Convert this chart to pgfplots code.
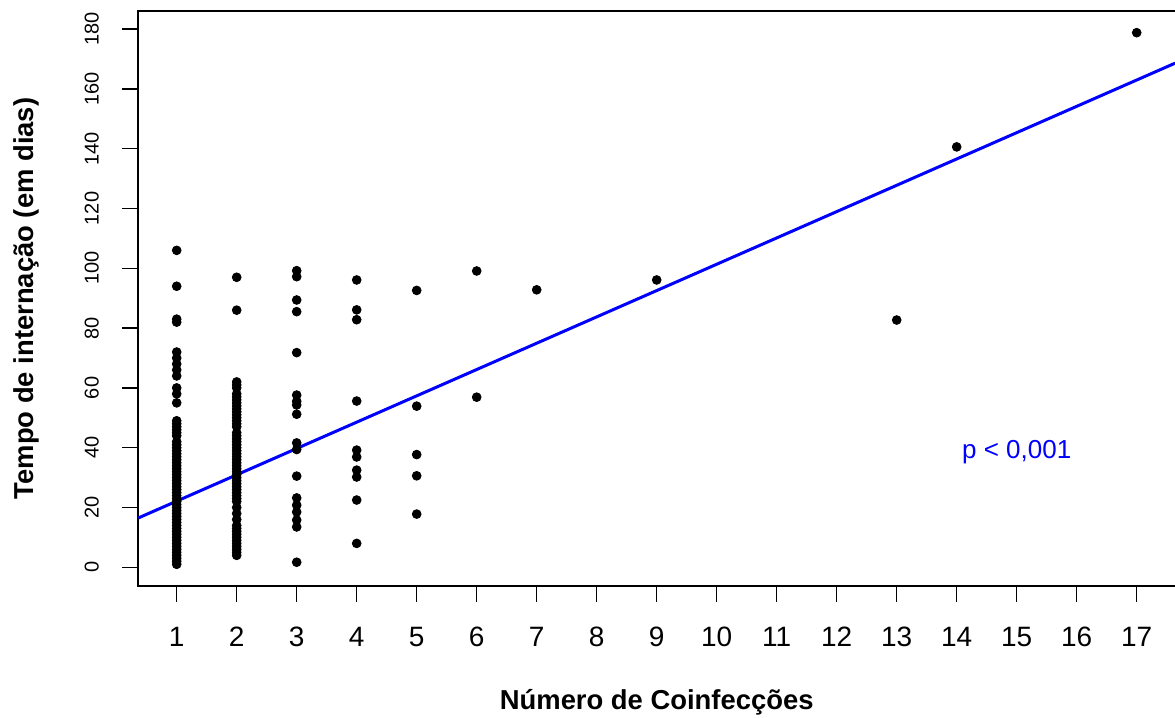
\documentclass[border=0pt]{standalone}
\usepackage{pgfplots}
\pgfplotsset{compat=1.18}
\usepackage{fontspec}
\setmainfont{Liberation Sans}
\begin{document}
\begin{tikzpicture}
\begin{axis}[
  name=ax,
  scale only axis,
  width=518.4pt, height=287.5pt,
  xmin=0.36, xmax=17.64,
  ymin=-6.25, ymax=186.05,
  clip=false,
  axis line style={draw=none},
  xtick={1,2,...,17},
  ytick={0,20,...,180},
  xtick pos=bottom, ytick pos=left,
  tick align=outside,
  major tick length=8pt,
  tick style={black, line width=0.7pt},
  /pgf/number format/assume math mode=true,
  xticklabel shift=12.3pt,
  yticklabel shift=11.5pt,
  xticklabel style={font=\fontsize{14}{16}\selectfont, anchor=north, inner sep=0pt},
  yticklabel style={font=\fontsize{10}{12}\selectfont, rotate=90, anchor=south, inner sep=0pt},
  every axis x label/.style={at={(axis description cs:0.5,0)}, anchor=base, yshift=-62pt, font=\bfseries\fontsize{13.7}{16}\selectfont},
  every axis y label/.style={at={([xshift=-52.5pt]axis description cs:0,0.5)}, rotate=90, anchor=base, font=\bfseries\fontsize{13.7}{16}\selectfont},
  xlabel={Número de Coinfecções},
  ylabel={Tempo de internação (em dias)},
]
\draw[black, line width=0.8pt] (rel axis cs:1,1) -- (rel axis cs:0,1) -- (rel axis cs:0,0) -- (rel axis cs:1,0);
\addplot[only marks, mark=*, mark size=2.2pt, black] coordinates {
 (1,106) (1,94) (1,83) (1,82) (1,72) (1,70) (1,68) (1,66) (1,64) (1,60) (1,58) (1,55)
 (1,49) (1,48) (1,47) (1,46) (1,45) (1,44) (1,42) (1,41) (1,40) (1,39) (1,38) (1,37)
 (1,36) (1,35) (1,34) (1,33) (1,32) (1,31) (1,30) (1,29) (1,28) (1,27) (1,26) (1,25)
 (1,24) (1,23) (1,22) (1,21) (1,20) (1,19) (1,18) (1,17) (1,16) (1,15) (1,14) (1,13)
 (1,12) (1,11) (1,10) (1,9) (1,8) (1,7) (1,6) (1,5) (1,4) (1,3) (1,2) (1,1)
 (2,97) (2,86) (2,62) (2,61) (2,60) (2,58) (2,57) (2,56) (2,55) (2,54) (2,53) (2,52)
 (2,51) (2,50) (2,49) (2,48) (2,47) (2,45) (2,44) (2,43) (2,42) (2,41) (2,40) (2,39)
 (2,38) (2,37) (2,36) (2,35) (2,34) (2,33) (2,32) (2,31) (2,30) (2,29) (2,28) (2,27)
 (2,26) (2,25) (2,24) (2,23) (2,22) (2,20) (2,18) (2,16) (2,14) (2,13) (2,12) (2,11)
 (2,10) (2,9) (2,8) (2,7) (2,6) (2,5) (2,4)
 (3,99.2) (3,97.2) (3,89.4) (3,85.5) (3,71.8) (3,57.6) (3,55.5) (3,54.3) (3,51.2)
 (3,41.6) (3,39.4) (3,30.5) (3,23.2) (3,20.8) (3,18.5) (3,15.8) (3,13.5) (3,1.7)
 (4,96.1) (4,86.1) (4,82.8) (4,55.6) (4,39.2) (4,36.9) (4,32.5) (4,30.2) (4,22.5) (4,8)
 (5,92.6) (5,53.9) (5,37.7) (5,30.6) (5,17.8)
 (6,99.1) (6,56.9)
 (7,92.8) (9,96.1) (13,82.7) (14,140.6) (17,178.8)
};
\addplot[blue, line width=1.5pt] coordinates {(0.36,16.5) (17.64,168.6)};
\node[blue, anchor=base, font=\fontsize{13}{15}\selectfont] at (axis cs:15,36.5) {p < 0,001};
\end{axis}
\pgfresetboundingbox
\path[use as bounding box] ([shift={(-69.15pt,-66pt)}]ax.south west) rectangle ++(587.5pt,359pt);
\end{tikzpicture}
\end{document}
